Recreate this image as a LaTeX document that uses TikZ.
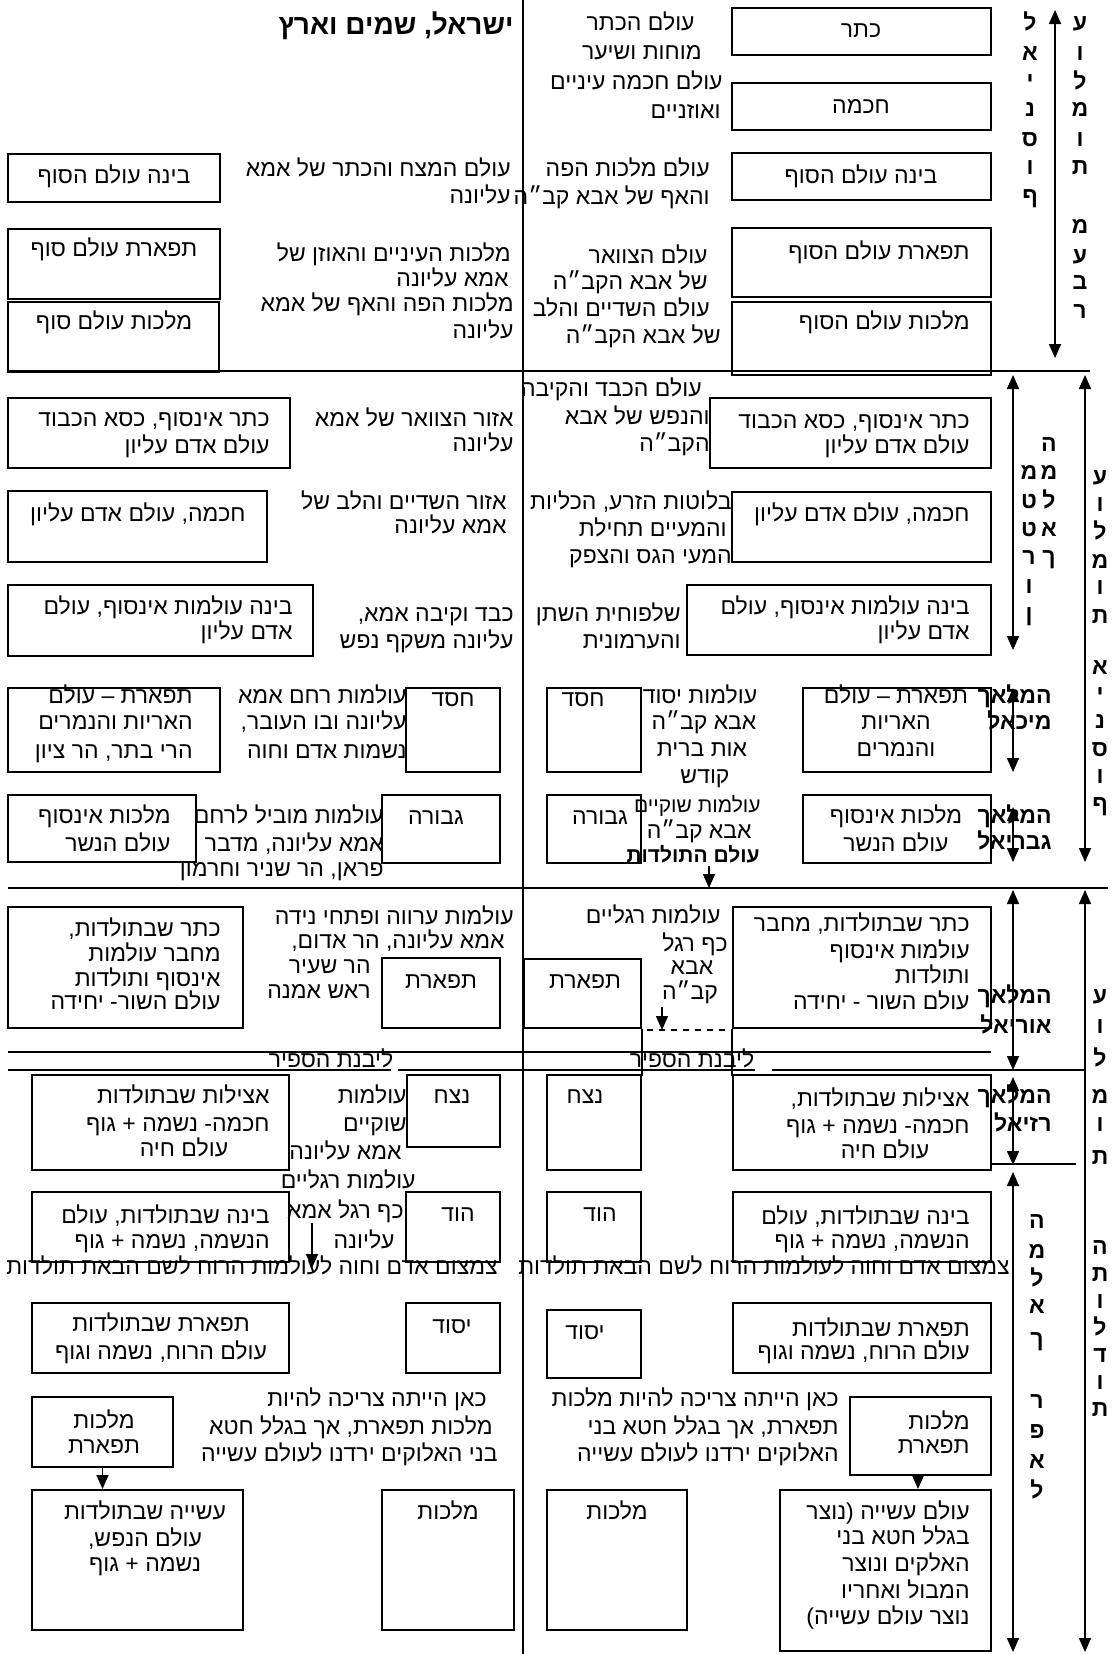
\documentclass[tikz,border=0pt]{standalone}
\usepackage{fontspec}
\setmainfont[Script=Hebrew]{Liberation Sans}
\usetikzlibrary{arrows.meta,fit}
\TeXXeTstate=1
\tikzset{
 tx/.style={inner sep=0pt, font=\fontsize{11.5}{13.5}\selectfont},
 txb/.style={inner sep=0pt, font=\fontsize{11.5}{13.5}\selectfont\bfseries},
 bx/.style={draw, line width=1pt, inner sep=0pt},
 arr/.style={line width=0.8pt, -{Triangle[width=6pt,length=7pt]}},
 darr/.style={line width=0.8pt, {Triangle[width=6pt,length=7pt]}-{Triangle[width=6pt,length=7pt]}},
 sepl/.style={line width=1.2pt},
 thinl/.style={line width=0.6pt},
}
\newcommand\hte[4]{\node[tx,anchor=base east] (#1) at (#2,#3+6) {#4};}
\newcommand\htc[4]{\node[tx,anchor=base] (#1) at (#2,#3+6) {#4};}
\newcommand\htb[4]{\node[txb,anchor=base east] (#1) at (#2,#3+6) {#4};}
\newcommand\hbx[5]{\node[bx,fit={(#2,#3) (#4,#5)}] (#1) {};}
\begin{document}
\begin{tikzpicture}[x=0.5pt,y=-0.5pt]
\useasboundingbox (0,0) rectangle (1115,1654);
% main lines
\coordinate (ctop) at (523,0); \coordinate (cbot) at (523,1654);
\draw[sepl] (ctop) -- (cbot);
\coordinate (la) at (8,371); \coordinate (lb) at (1090,371);
\draw[sepl] (la) -- (lb);
\coordinate (ma) at (8,888); \coordinate (mb) at (1108,888);
\draw[sepl] (ma) -- (mb);
% header
\node[tx,anchor=base east,font=\fontsize{14}{16}\selectfont\bfseries] (head) at (514,34) {\beginR ישראל, שמים וארץ\endR};
% ===== section 1 right
\hbx{r1}{732}{8}{991}{55}   \htc{r1t}{861}{32}{\beginR כתר\endR}
\hbx{r2}{732}{83}{991}{130} \htc{r2t}{861}{107}{\beginR חכמה\endR}
\hbx{r3}{732}{153}{991}{200} \htc{r3t}{861}{177}{\beginR בינה עולם הסוף\endR}
\hbx{r4}{732}{228}{991}{297} \hte{r4t}{970}{253}{\beginR תפארת עולם הסוף\endR}
\hbx{r5}{732}{302}{991}{375} \hte{r5t}{970}{323}{\beginR מלכות עולם הסוף\endR}
\hte{a1}{695}{25}{\beginR עולם הכתר\endR}
\hte{a2}{702}{53}{\beginR מוחות ושיער\endR}
\hte{a3}{723}{83}{\beginR עולם חכמה עיניים\endR}
\hte{a4}{721}{112}{\beginR ואוזניים\endR}
\hte{a5}{710}{170}{\beginR עולם מלכות הפה\endR}
\hte{a6}{710}{198}{\beginR והאף של אבא קב״ה\endR}
\hte{a7}{708}{257}{\beginR עולם הצוואר\endR}
\hte{a8}{708}{283}{\beginR של אבא הקב״ה\endR}
\hte{a9}{710}{310}{\beginR עולם השדיים והלב\endR}
\hte{a10}{721}{337}{\beginR של אבא הקב״ה\endR}
% section 1 left
\hbx{l1}{8}{154}{220}{202} \htc{l1t}{114}{177}{\beginR בינה עולם הסוף\endR}
\hbx{l2}{8}{229}{220}{299} \htc{l2t}{114}{250}{\beginR תפארת עולם סוף\endR}
\hbx{l3}{8}{302}{219}{372} \htc{l3t}{114}{323}{\beginR מלכות עולם סוף\endR}
\hte{b1}{511}{170}{\beginR עולם המצח והכתר של אמא\endR}
\hte{b2}{511}{197}{\beginR עליונה\endR}
\hte{b3}{511}{255}{\beginR מלכות העיניים והאוזן של\endR}
\hte{b4}{509}{280}{\beginR אמא עליונה\endR}
\hte{b5}{514}{305}{\beginR מלכות הפה והאף של אמא\endR}
\hte{b6}{514}{332}{\beginR עליונה\endR}
% section 1 columns
\foreach \l/\y [count=\i] in {ל/25,א/55,י/82,נ/110,ס/140,ו/168,ף/197}
  \node[txb,anchor=base] (ca\i) at (1030,\y+6) {\l};
\foreach \l/\y [count=\i] in {ע/25,ו/55,ל/83,מ/110,ו/140,ת/168,מ/227,ע/257,ב/283,ר/312}
  \node[txb,anchor=base] (cb\i) at (1080,\y+6) {\l};
\coordinate (ar1a) at (1055,10); \coordinate (ar1b) at (1055,358);
\draw[darr] (ar1a) -- (ar1b);
% ===== section 2 left
\hbx{l4}{8}{398}{290}{468}
\hte{l4t1}{270}{420}{\beginR כתר אינסוף, כסא הכבוד\endR}
\hte{l4t2}{270}{447}{\beginR עולם אדם עליון\endR}
\hbx{l5}{8}{491}{267}{562} \hte{l5t}{246}{515}{\beginR חכמה, עולם אדם עליון\endR}
\hbx{l6}{8}{585}{313}{656}
\hte{l6t1}{293}{608}{\beginR בינה עולמות אינסוף, עולם\endR}
\hte{l6t2}{293}{633}{\beginR אדם עליון\endR}
\hte{c1}{514}{420}{\beginR אזור הצוואר של אמא\endR}
\hte{c2}{514}{445}{\beginR עליונה\endR}
\hte{c3}{507}{503}{\beginR אזור השדיים והלב של\endR}
\hte{c4}{507}{527}{\beginR אמא עליונה\endR}
\hte{c5}{514}{615}{\beginR כבד וקיבה אמא,\endR}
\hte{c6}{514}{642}{\beginR עליונה משקף נפש\endR}
\hbx{l7}{8}{688}{220}{772}
\hte{l7t1}{193}{697}{\beginR תפארת – עולם\endR}
\hte{l7t2}{193}{723}{\beginR האריות והנמרים\endR}
\hte{l7t3}{193}{752}{\beginR הרי בתר, הר ציון\endR}
\hbx{l8}{406}{688}{500}{772} \htc{l8t}{453}{700}{\beginR חסד\endR}
\hte{c7}{407}{697}{\beginR עולמות רחם אמא\endR}
\hte{c8}{407}{723}{\beginR עליונה ובו העובר,\endR}
\hte{c9}{407}{752}{\beginR נשמות אדם וחוה\endR}
\hbx{l9}{8}{795}{196}{862}
\hte{l9t1}{171}{817}{\beginR מלכות אינסוף\endR}
\hte{l9t2}{171}{845}{\beginR עולם הנשר\endR}
\hbx{l10}{382}{795}{500}{863} \htc{l10t}{436}{818}{\beginR גבורה\endR}
\hte{c10}{384}{817}{\beginR עולמות מוביל לרחם\endR}
\hte{c11}{384}{845}{\beginR אמא עליונה, מדבר\endR}
\hte{c12}{384}{870}{\beginR פראן, הר שניר וחרמון\endR}
% section 2 right
\hte{d1}{702}{390}{\beginR עולם הכבד והקיבה\endR}
\hte{d2}{710}{418}{\beginR והנפש של אבא\endR}
\hte{d3}{710}{445}{\beginR הקב״ה\endR}
\hbx{r6}{710}{398}{991}{468}
\hte{r6t1}{970}{422}{\beginR כתר אינסוף, כסא הכבוד\endR}
\hte{r6t2}{970}{447}{\beginR עולם אדם עליון\endR}
\hbx{r7}{732}{492}{991}{562} \hte{r7t}{970}{515}{\beginR חכמה, עולם אדם עליון\endR}
\hte{d4}{732}{503}{\beginR בלוטות הזרע, הכליות\endR}
\hte{d5}{727}{530}{\beginR והמעיים תחילת\endR}
\hte{d6}{732}{557}{\beginR המעי הגס והצפק\endR}
\hbx{r8}{687}{585}{991}{655}
\hte{r8t1}{970}{608}{\beginR בינה עולמות אינסוף, עולם\endR}
\hte{r8t2}{970}{633}{\beginR אדם עליון\endR}
\hte{d7}{681}{615}{\beginR שלפוחית השתן\endR}
\hte{d8}{681}{642}{\beginR והערמונית\endR}
\hbx{r9}{547}{688}{641}{772} \htc{r9t}{583}{700}{\beginR חסד\endR}
\htc{d9}{700}{697}{\beginR עולמות יסוד\endR}
\htc{d10}{704}{723}{\beginR אבא קב״ה\endR}
\htc{d11}{702}{750}{\beginR אות ברית\endR}
\htc{d12}{705}{777}{\beginR קודש\endR}
\hbx{r10}{803}{688}{991}{772}
\htc{r10t1}{896}{697}{\beginR תפארת – עולם\endR}
\htc{r10t2}{896}{723}{\beginR האריות\endR}
\htc{r10t3}{896}{750}{\beginR והנמרים\endR}
\hbx{r11}{547}{795}{641}{863} \htc{r11t}{600}{818}{\beginR גבורה\endR}
\node[tx,anchor=base east,font=\fontsize{10.5}{12}\selectfont] (d13) at (761,812) {\beginR עולמות שוקיים\endR};
\hte{d14}{752}{832}{\beginR אבא קב״ה\endR}
\node[txb,anchor=base east,font=\fontsize{10.5}{12}\selectfont\bfseries] (tol) at (760,862) {\beginR עולם התולדות\endR};
\coordinate (tola) at (709,866);
\draw[arr] (tola) -- (tola |- ma);
\hbx{r12}{803}{795}{991}{863}
\htc{r12t1}{896}{817}{\beginR מלכות אינסוף\endR}
\htc{r12t2}{896}{845}{\beginR עולם הנשר\endR}
% section 2 labels
\coordinate (ar2a) at (1013,375); \coordinate (ar2b) at (1013,650);
\draw[darr] (ar2a) -- (ar2b);
\coordinate (ar3a) at (1085,375); \coordinate (ar3b) at (1085,862);
\draw[darr] (ar3a) -- (ar3b);
\foreach \l/\y [count=\i] in {ה/445,מ/473,ל/502,א/530,ך/558}
  \node[txb,anchor=base] (cc\i) at (1049,\y+6) {\l};
\foreach \l/\y [count=\i] in {מ/473,ט/502,ט/530,ר/558,ו/587,ן/615}
  \node[txb,anchor=base] (cd\i) at (1029,\y+6) {\l};
\foreach \l/\y [count=\i] in {ע/478,ו/505,ל/533,מ/562,ו/588,ת/617,א/668,י/695,נ/722,ס/750,ו/777,ף/805}
  \node[txb,anchor=base] (ce\i) at (1100,\y+6) {\l};
\coordinate (mia) at (1013,688); \coordinate (mib) at (1013,772);
\draw[darr] (mia) -- (mib);
\htb{mi1}{1052}{697}{\beginR המלאך\endR}
\htb{mi2}{1052}{723}{\beginR מיכאל\endR}
\coordinate (gaa) at (1013,807); \coordinate (gab) at (1013,862);
\draw[darr] (gaa) -- (gab);
\htb{ga1}{1052}{817}{\beginR המלאך\endR}
\htb{ga2}{1052}{843}{\beginR גבריאל\endR}
% ===== section 3 left
\hbx{l11}{8}{907}{243}{1028}
\hte{l11t1}{221}{930}{\beginR כתר שבתולדות,\endR}
\hte{l11t2}{221}{955}{\beginR מחבר עולמות\endR}
\hte{l11t3}{221}{980}{\beginR אינסוף ותולדות\endR}
\hte{l11t4}{221}{1003}{\beginR עולם השור- יחידה\endR}
\hte{e1}{514}{918}{\beginR עולמות ערווה ופתחי נידה\endR}
\hte{e2}{505}{942}{\beginR אמא עליונה, הר אדום,\endR}
\hte{e3}{371}{967}{\beginR הר שעיר\endR}
\hte{e4}{371}{992}{\beginR ראש אמנה\endR}
\hbx{l12}{382}{958}{500}{1028} \htc{l12t}{441}{982}{\beginR תפארת\endR}
% section 3 right
\hte{f1}{721}{917}{\beginR עולמות רגליים\endR}
\htc{f2}{695}{945}{\beginR כף רגל\endR}
\htc{f3}{692}{968}{\beginR אבא\endR}
\htc{f4}{690}{993}{\beginR קב״ה\endR}
\hbx{r13}{524}{959}{641}{1028} \htc{r13t}{585}{982}{\beginR תפארת\endR}
\coordinate (f5a) at (662,1007); \coordinate (f5b) at (662,1030);
\draw[arr] (f5a) -- (f5b);
\coordinate (dsa) at (647,1030); \coordinate (dsb) at (733,1030);
\draw[thinl,dashed] (dsa) -- (dsb);
\hbx{r14}{733}{907}{991}{1028}
\hte{r14t1}{970}{925}{\beginR כתר שבתולדות, מחבר\endR}
\hte{r14t2}{970}{952}{\beginR עולמות אינסוף\endR}
\hte{r14t3}{970}{977}{\beginR ותולדות\endR}
\hte{r14t4}{970}{1003}{\beginR עולם השור - יחידה\endR}
\draw[bx] (r13.south east) -- ++(0,47);
\draw[bx] (r14.south west) -- ++(0,47);
% sapphire lines
\coordinate (s1a) at (8,1052); \coordinate (s1b) at (991,1052);
\draw[thinl] (s1a) -- (s1b);
\draw[thinl] (8,1070) -- (391,1070);
\draw[thinl] (398,1070) -- (755,1070);
\draw[thinl] (772,1070) -- (1085,1070);
\node[tx,anchor=base] (sp1) at (331,1067) {\beginR ליבנת הספיר\endR};
\node[tx,anchor=base] (sp2) at (692,1067) {\beginR ליבנת הספיר\endR};
% angels sec 3
\coordinate (ura) at (1013,890); \coordinate (urb) at (1013,1070);
\draw[darr] (ura) -- (urb);
\htb{ur1}{1052}{997}{\beginR המלאך\endR}
\htb{ur2}{1052}{1027}{\beginR אוריאל\endR}
\coordinate (rza) at (1013,1077); \coordinate (rzb) at (1013,1165);
\draw[darr] (rza) -- (rzb);
\htb{rz1}{1052}{1097}{\beginR המלאך\endR}
\htb{rz2}{1052}{1125}{\beginR רזיאל\endR}
\coordinate (ar4a) at (1085,890); \coordinate (ar4b) at (1085,1652);
\draw[darr] (ar4a) -- (ar4b);
\foreach \l/\y [count=\i] in {ע/997,ו/1027,ל/1060,מ/1097,ו/1125,ת/1158,ה/1248,ת/1275,ו/1302,ל/1329,ד/1356,ו/1383,ת/1410}
  \node[txb,anchor=base] (cf\i) at (1100,\y+6) {\l};
% ===== section 4 left
\hbx{l13}{32}{1075}{289}{1170}
\hte{l13t1}{270}{1097}{\beginR אצילות שבתולדות\endR}
\hte{l13t2}{270}{1125}{\beginR חכמה- נשמה + גוף\endR}
\htc{l13t3}{184}{1150}{\beginR עולם חיה\endR}
\hbx{l14}{407}{1075}{500}{1147} \htc{l14t}{452}{1097}{\beginR נצח\endR}
\hte{g1}{407}{1097}{\beginR עולמות\endR}
\hte{g2}{407}{1125}{\beginR שוקיים\endR}
\hte{g3}{402}{1153}{\beginR אמא עליונה\endR}
\hte{g4}{416}{1182}{\beginR עולמות רגליים\endR}
\hte{g5}{404}{1212}{\beginR כף רגל אמא\endR}
\hte{g6}{395}{1242}{\beginR עליונה\endR}
\hbx{l15}{32}{1192}{289}{1262}
\hte{l15t1}{270}{1217}{\beginR בינה שבתולדות, עולם\endR}
\hte{l15t2}{270}{1242}{\beginR הנשמה, נשמה + גוף\endR}
\hbx{l16}{406}{1192}{500}{1262} \htc{l16t}{458}{1215}{\beginR הוד\endR}
\coordinate (g7a) at (312,1223); \coordinate (g7b) at (312,1268);
\draw[arr] (g7a) -- (g7b);
\hte{g8}{498}{1268}{\beginR צמצום אדם וחוה לעולמות הרוח לשם הבאת תולדות\endR}
\hbx{l17}{32}{1303}{289}{1373}
\htc{l17t1}{161}{1325}{\beginR תפארת שבתולדות\endR}
\htc{l17t2}{161}{1353}{\beginR עולם הרוח, נשמה וגוף\endR}
\hbx{l18}{406}{1303}{500}{1373} \htc{l18t}{452}{1327}{\beginR יסוד\endR}
\hbx{l19}{32}{1397}{173}{1467}
\htc{l19t1}{104}{1422}{\beginR מלכות\endR}
\htc{l19t2}{104}{1447}{\beginR תפארת\endR}
\hbx{l20}{32}{1490}{243}{1630}
\htc{l20t1}{145}{1513}{\beginR עשייה שבתולדות\endR}
\htc{l20t2}{145}{1540}{\beginR עולם הנפש,\endR}
\htc{l20t3}{145}{1565}{\beginR נשמה + גוף\endR}
\draw[arr] (l19.south) -- (l19.south |- l20.north);
\hte{g9}{487}{1400}{\beginR כאן הייתה צריכה להיות\endR}
\hte{g10}{493}{1428}{\beginR מלכות תפארת, אך בגלל חטא\endR}
\hte{g11}{498}{1455}{\beginR בני האלוקים ירדנו לעולם עשייה\endR}
\hbx{l21}{382}{1490}{514}{1630} \htc{l21t}{448}{1513}{\beginR מלכות\endR}
% section 4 right
\hbx{r15}{547}{1075}{641}{1170} \htc{r15t}{585}{1097}{\beginR נצח\endR}
\hbx{r16}{733}{1075}{991}{1170}
\hte{r16t1}{970}{1100}{\beginR אצילות שבתולדות,\endR}
\hte{r16t2}{970}{1127}{\beginR חכמה- נשמה + גוף\endR}
\htc{r16t3}{885}{1152}{\beginR עולם חיה\endR}
\coordinate (hza) at (991,1164); \coordinate (hzb) at (1076,1164);
\draw[bx] (hza) -- (hzb);
\hbx{r17}{547}{1192}{641}{1262} \htc{r17t}{600}{1215}{\beginR הוד\endR}
\hbx{r18}{733}{1192}{991}{1262}
\hte{r18t1}{970}{1218}{\beginR בינה שבתולדות, עולם\endR}
\hte{r18t2}{970}{1242}{\beginR הנשמה, נשמה + גוף\endR}
\hte{h1}{1010}{1268}{\beginR צמצום אדם וחוה לעולמות הרוח לשם הבאת תולדות\endR}
\hbx{r19}{547}{1310}{641}{1378} \htc{r19t}{585}{1333}{\beginR יסוד\endR}
\hbx{r20}{733}{1303}{991}{1373}
\hte{r20t1}{970}{1330}{\beginR תפארת שבתולדות\endR}
\hte{r20t2}{970}{1353}{\beginR עולם הרוח, נשמה וגוף\endR}
\hte{h2}{839}{1400}{\beginR כאן הייתה צריכה להיות מלכות\endR}
\hte{h3}{839}{1428}{\beginR תפארת, אך בגלל חטא בני\endR}
\hte{h4}{839}{1455}{\beginR האלוקים ירדנו לעולם עשייה\endR}
\hbx{r21}{850}{1397}{991}{1475}
\hte{r21t1}{970}{1423}{\beginR מלכות\endR}
\hte{r21t2}{970}{1447}{\beginR תפארת\endR}
\hbx{r22}{547}{1490}{687}{1630} \htc{r22t}{617}{1513}{\beginR מלכות\endR}
\hbx{r23}{780}{1490}{991}{1651}
\hte{r23t1}{970}{1513}{\beginR עולם עשייה (נוצר\endR}
\hte{r23t2}{970}{1538}{\beginR בגלל חטא בני\endR}
\hte{r23t3}{970}{1565}{\beginR האלקים ונוצר\endR}
\hte{r23t4}{970}{1592}{\beginR המבול ואחריו\endR}
\hte{r23t5}{970}{1618}{\beginR נוצר עולם עשייה)\endR}
\coordinate (r21a) at (918,1475);
\draw[arr] (r21a) -- (r21a |- r23.north);
\coordinate (rpa) at (1013,1172); \coordinate (rpb) at (1013,1652);
\draw[darr] (rpa) -- (rpb);
\foreach \l/\y [count=\i] in {ה/1222,מ/1252,ל/1280,א/1307,ך/1340,ר/1402,פ/1432,א/1462,ל/1492}
  \node[txb,anchor=base] (cg\i) at (1037,\y+6) {\l};
\end{tikzpicture}
\end{document}
